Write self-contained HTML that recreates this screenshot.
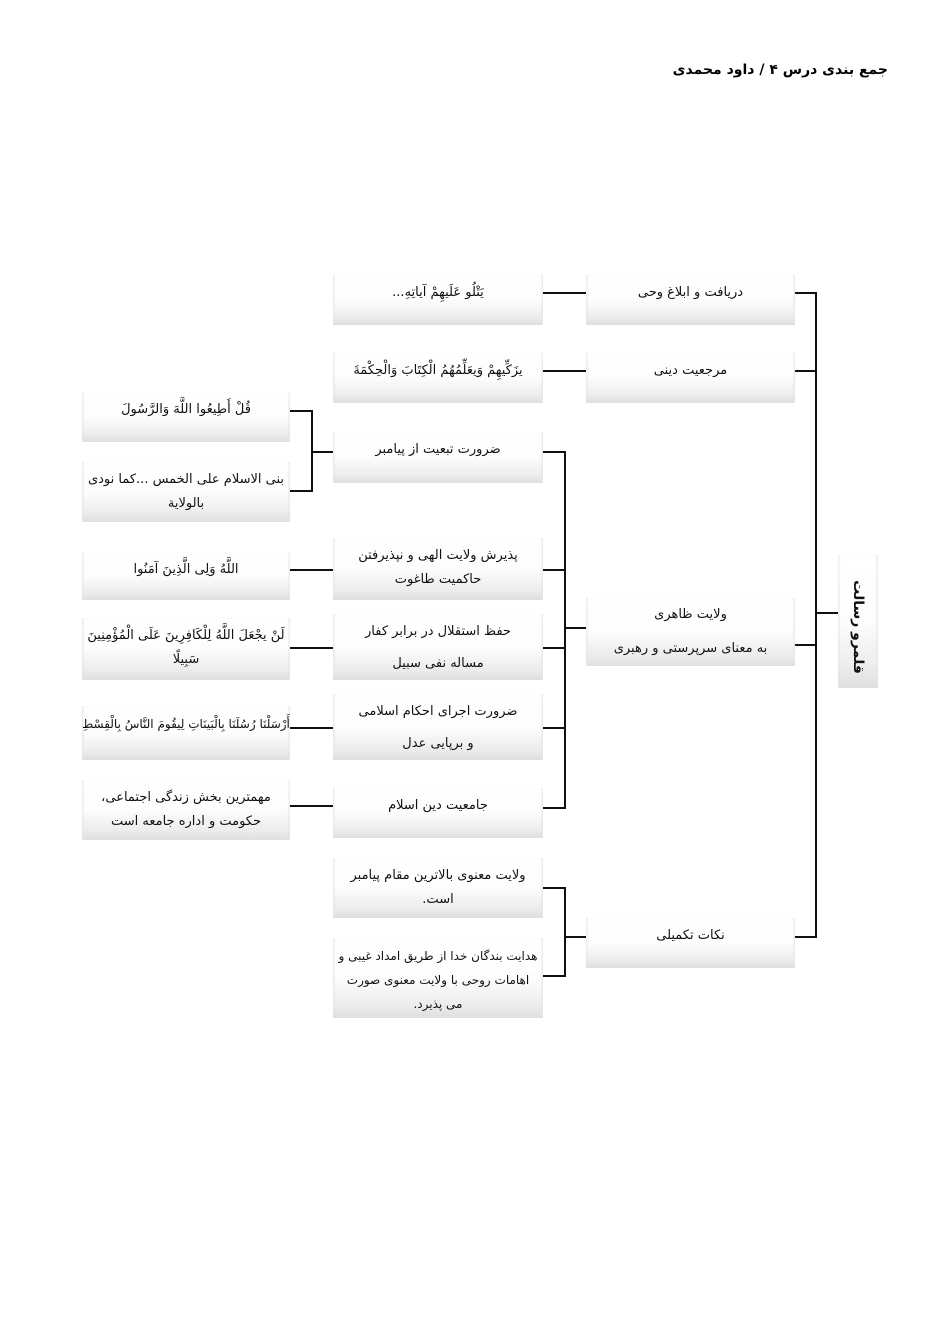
<!DOCTYPE html>
<html><head><meta charset="utf-8">
<style>
body{margin:0;background:#fff;}
#c{position:relative;width:945px;height:1323px;overflow:hidden;font-family:"DejaVu Sans","Noto Sans CJK SC",sans-serif;}
.b{position:absolute;background:linear-gradient(to bottom,#fff 0%,#fdfdfd 50%,#ececec 85%,#dedede 100%);box-shadow:inset 2px 0 2px -1px #e4e4e4,inset -2px 0 2px -1px #e4e4e4;direction:rtl;text-align:center;font-size:13px;color:#111;line-height:24px;box-sizing:border-box;padding-top:6px;}
.h{position:absolute;right:57px;top:62px;font-weight:bold;font-size:14px;direction:rtl;}
</style></head><body><div id="c">
<div class="h">جمع بندی درس ۴ / داود محمدی</div>
<svg width="945" height="1323" style="position:absolute;left:0;top:0">
<g stroke="#111" stroke-width="2" fill="none">
<path d="M795 293H816V937H795M795 371H816M795 645H816M816 613H838"/>
<path d="M543 293H586M543 371H586"/>
<path d="M543 452H565V808H543M543 570H565M543 648H565M543 728H565M565 628H586"/>
<path d="M543 888H565V976H543M565 937H586"/>
<path d="M290 411H312V491H290M312 452H333"/>
<path d="M290 570H333M290 648H333M290 728H333M290 806H333"/>
</g></svg>
<div class="b" style="left:586px;top:275px;width:209px;height:50px">دریافت و ابلاغ وحی</div>
<div class="b" style="left:586px;top:353px;width:209px;height:50px">مرجعیت دینی</div>
<div class="b" style="left:586px;top:598px;width:209px;height:68px;line-height:34px;padding-top:0">ولایت ظاهری<br>به معنای سرپرستی و رهبری</div>
<div class="b" style="left:586px;top:918px;width:209px;height:50px">نکات تکمیلی</div>
<div class="b" style="left:838px;top:555px;width:40px;height:133px;padding:0"><div style="position:absolute;left:50%;top:10px;transform:translateX(-50%) rotate(90deg);transform-origin:center;white-space:nowrap;font-weight:bold;font-size:14px;margin-top:50px">قلمرو رسالت</div></div>

<div class="b" style="left:333px;top:275px;width:210px;height:50px">يَتْلُو عَلَيهِمْ آياتِهِ...</div>
<div class="b" style="left:333px;top:353px;width:210px;height:50px">يزَكِّيهِمْ وَيعَلِّمُهُمُ الْكِتَابَ وَالْحِكْمَةَ</div>
<div class="b" style="left:333px;top:432px;width:210px;height:51px">ضرورت تبعیت از پیامبر</div>
<div class="b" style="left:333px;top:538px;width:210px;height:62px;padding-top:6px">پذیرش ولایت الهی و نپذیرفتن<br>حاکمیت طاغوت</div>
<div class="b" style="left:333px;top:614px;width:210px;height:66px;line-height:32px;padding-top:2px">حفظ استقلال در برابر کفار<br>مساله نفی سبیل</div>
<div class="b" style="left:333px;top:694px;width:210px;height:66px;line-height:32px;padding-top:2px">ضرورت اجرای احکام اسلامی<br>و برپایی عدل</div>
<div class="b" style="left:333px;top:788px;width:210px;height:50px">جامعیت دین اسلام</div>
<div class="b" style="left:333px;top:858px;width:210px;height:60px">ولایت معنوی بالاترین مقام پیامبر<br>است.</div>
<div class="b" style="left:333px;top:938px;width:210px;height:80px;font-size:12px;white-space:nowrap">هدایت بندگان خدا از طریق امداد غیبی و<br>اهامات روحی با ولایت معنوی صورت<br>می پذیرد.</div>

<div class="b" style="left:82px;top:392px;width:208px;height:50px">قُلْ أَطِيعُوا اللَّهَ وَالرَّسُولَ</div>
<div class="b" style="left:82px;top:462px;width:208px;height:60px">بنی الاسلام علی الخمس ...کما نودی<br>بالولایة</div>
<div class="b" style="left:82px;top:552px;width:208px;height:48px">اللَّهُ وَلِی الَّذِينَ آمَنُوا</div>
<div class="b" style="left:82px;top:618px;width:208px;height:62px">لَنْ يجْعَلَ اللَّهُ لِلْكَافِرِينَ عَلَى الْمُؤْمِنِينَ<br>سَبِيلًا</div>
<div class="b" style="left:82px;top:706px;width:208px;height:54px;font-size:12px">أَرْسَلْنَا رُسُلَنَا بِالْبَينَاتِ لِيقُومَ النَّاسُ بِالْقِسْطِ</div>
<div class="b" style="left:82px;top:780px;width:208px;height:60px">مهمترین بخش زندگی اجتماعی،<br>حکومت و اداره جامعه است</div>
</div></body></html>
